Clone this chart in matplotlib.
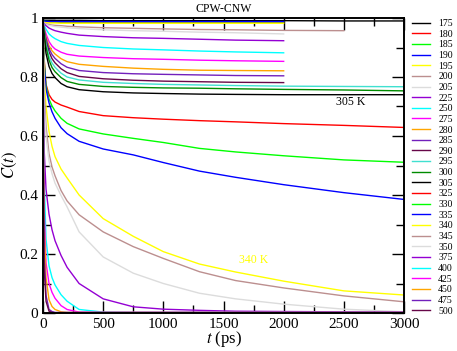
import numpy as np
import matplotlib.pyplot as plt

plt.rcParams['font.family'] = ['Liberation Serif', 'DejaVu Serif']
plt.rcParams['mathtext.fontset'] = 'stix'

nan = np.nan

# time grid (ps)
t = [0, 5, 10, 25, 50, 75, 100, 150, 200, 300, 500, 750, 1000, 1300, 1600, 2000, 2500, 3000]

temps = ['175', '180', '185', '190', '195', '200', '205', '225', '250', '275', '280',
         '285', '290', '295', '300', '305', '325', '330', '335', '340', '345', '350',
         '375', '400', '425', '450', '475', '500']

c175 = [0.992, 0.992, 0.992, 0.992, 0.992, 0.992, 0.992, 0.992, 0.992, 0.992, 0.991, 0.991, 0.991, 0.991, 0.991, 0.991, 0.990, 0.990]
c180 = [0.990, 0.989, 0.988, 0.987, 0.987, 0.986, 0.986, 0.986, 0.986, 0.986, 0.986, 0.986, 0.986, 0.986, 0.986, 0.986, nan, nan]
c185 = [0.990, 0.990, 0.989, 0.988, 0.988, 0.987, 0.987, 0.987, 0.987, 0.987, 0.987, 0.987, 0.987, 0.987, 0.987, 0.987, nan, nan]
c190 = [0.990, 0.990, 0.989, 0.989, 0.988, 0.988, 0.988, 0.988, 0.988, 0.988, 0.988, 0.988, 0.988, 0.988, 0.988, 0.988, nan, nan]
c195 = [0.988, 0.986, 0.985, 0.984, 0.983, 0.983, 0.983, 0.982, 0.982, 0.982, 0.982, 0.982, 0.982, 0.982, 0.982, 0.982, nan, nan]
c200 = [0.985, 0.984, 0.983, 0.980, 0.978, 0.976, 0.975, 0.974, 0.972, 0.970, 0.967, 0.965, 0.963, 0.961, 0.960, 0.958, 0.957, nan]
c205 = [0.985, 0.983, 0.982, 0.978, 0.975, 0.973, 0.971, 0.969, 0.967, 0.964, 0.960, 0.957, 0.955, 0.952, 0.950, 0.946, nan, nan]
c225 = [0.985, 0.982, 0.980, 0.974, 0.966, 0.961, 0.957, 0.952, 0.948, 0.942, 0.937, 0.933, 0.931, 0.928, 0.925, 0.923, nan, nan]
c250 = [0.985, 0.980, 0.975, 0.962, 0.946, 0.937, 0.930, 0.920, 0.914, 0.907, 0.900, 0.895, 0.892, 0.888, 0.885, 0.882, nan, nan]
c275 = [0.985, 0.976, 0.968, 0.946, 0.920, 0.905, 0.895, 0.884, 0.877, 0.871, 0.866, 0.862, 0.860, 0.857, 0.855, 0.853, nan, nan]
c280 = [0.985, 0.974, 0.963, 0.936, 0.906, 0.889, 0.878, 0.862, 0.852, 0.843, 0.836, 0.830, 0.826, 0.823, 0.822, 0.821, nan, nan]
c285 = [0.985, 0.972, 0.960, 0.930, 0.896, 0.876, 0.863, 0.845, 0.833, 0.822, 0.815, 0.811, 0.809, 0.807, 0.805, 0.804, nan, nan]
c290 = [0.985, 0.970, 0.956, 0.922, 0.885, 0.862, 0.848, 0.828, 0.815, 0.802, 0.794, 0.789, 0.786, 0.784, 0.782, 0.781, nan, nan]
c295 = [0.985, 0.968, 0.952, 0.912, 0.870, 0.847, 0.833, 0.813, 0.800, 0.790, 0.782, 0.778, 0.775, 0.773, 0.771, 0.769, 0.768, 0.767]
c300 = [0.985, 0.966, 0.948, 0.902, 0.857, 0.832, 0.818, 0.798, 0.785, 0.775, 0.768, 0.765, 0.763, 0.762, 0.760, 0.758, 0.756, 0.753]
c305 = [0.985, 0.958, 0.935, 0.880, 0.836, 0.812, 0.798, 0.778, 0.767, 0.757, 0.750, 0.746, 0.744, 0.742, 0.741, 0.740, 0.740, 0.740]
c325 = [0.985, 0.910, 0.860, 0.775, 0.740, 0.724, 0.715, 0.705, 0.698, 0.683, 0.669, 0.662, 0.657, 0.652, 0.648, 0.642, 0.636, 0.629]
c330 = [0.985, 0.905, 0.850, 0.770, 0.725, 0.702, 0.685, 0.660, 0.643, 0.624, 0.607, 0.592, 0.578, 0.558, 0.546, 0.533, 0.519, 0.511]
c335 = [0.985, 0.900, 0.840, 0.760, 0.712, 0.682, 0.660, 0.628, 0.608, 0.582, 0.556, 0.536, 0.510, 0.481, 0.460, 0.435, 0.408, 0.385]
c340 = [0.985, 0.880, 0.800, 0.700, 0.615, 0.565, 0.530, 0.488, 0.458, 0.400, 0.320, 0.260, 0.208, 0.166, 0.139, 0.108, 0.075, 0.061]
c345 = [0.985, 0.850, 0.750, 0.635, 0.540, 0.495, 0.465, 0.415, 0.380, 0.333, 0.275, 0.225, 0.185, 0.140, 0.110, 0.085, 0.058, 0.038]
c350 = [0.985, 0.820, 0.700, 0.600, 0.515, 0.472, 0.440, 0.398, 0.360, 0.275, 0.190, 0.135, 0.100, 0.067, 0.048, 0.030, 0.013, 0.004]
c375 = [0.985, 0.700, 0.550, 0.420, 0.335, 0.282, 0.245, 0.195, 0.155, 0.100, 0.048, 0.021, 0.013, 0.009, 0.006, 0.005, 0.004, 0.003]
c400 = [0.985, 0.620, 0.450, 0.250, 0.160, 0.120, 0.095, 0.062, 0.040, 0.012, 0.003, 0.002, 0.002, 0.002, 0.002, 0.002, 0.002, 0.002]
c425 = [0.985, 0.550, 0.350, 0.170, 0.100, 0.070, 0.050, 0.025, 0.012, 0.003, 0.002, 0.002, 0.002, 0.002, 0.002, 0.002, 0.002, 0.002]
c450 = [0.985, 0.500, 0.300, 0.120, 0.045, 0.022, 0.012, 0.004, 0.002, 0.002, 0.002, 0.002, 0.002, 0.002, 0.002, 0.002, 0.002, 0.002]
c475 = [0.985, 0.420, 0.200, 0.060, 0.012, 0.005, 0.002, 0.002, 0.002, 0.002, 0.002, 0.002, 0.002, 0.002, 0.002, 0.002, 0.002, 0.002]
c500 = [0.985, 0.360, 0.150, 0.040, 0.006, 0.002, 0.001, 0.001, 0.001, 0.001, 0.001, 0.001, 0.001, 0.001, 0.001, 0.001, 0.001, 0.001]

curves = [c175, c180, c185, c190, c195, c200, c205, c225, c250, c275, c280, c285, c290, c295,
          c300, c305, c325, c330, c335, c340, c345, c350, c375, c400, c425, c450, c475, c500]

# xmgrace default colour cycle
grace = ['#000000', '#ff0000', '#00ff00', '#0000ff', '#ffff00', '#bc8f8f', '#dcdcdc',
         '#9400d3', '#00ffff', '#ff00ff', '#ffa500', '#7220bc', '#670748', '#40e0d0', '#008b00']

fig = plt.figure(figsize=(4.57, 3.51), dpi=100)
ax = fig.add_axes([43/457, 1 - 313/351, 361/457, 295/351])

for i, (lab, c) in enumerate(zip(temps, curves)):
    ax.plot(t, c, color=grace[i % 15 if i < 15 else (i - 15) % 15], lw=1.0, label=lab)

ax.set_xlim(0, 3000)
ax.set_ylim(0, 1)
ax.set_xticks(range(0, 3001, 500))
ax.set_xticks(range(0, 3001, 250), minor=True)
ax.set_yticks([0, 0.2, 0.4, 0.6, 0.8, 1])
ax.set_yticklabels(['0', '0.2', '0.4', '0.6', '0.8', '1'])
ax.set_yticks(np.arange(0, 1.01, 0.1), minor=True)
ax.tick_params(which='both', direction='in', top=True, right=True, labelsize=11, width=1.0)
ax.tick_params(which='major', length=8.5)
ax.tick_params(which='minor', length=5.5)
for s in ax.spines.values():
    s.set_linewidth(1.4)

ax.set_xlabel(r'$t$ (ps)', fontsize=12, labelpad=-1)
ax.set_ylabel(r'$C(t)$', fontsize=12, labelpad=0)
ax.set_title('CPW-CNW', fontsize=8.5, pad=4)

ax.text(2558, 0.715, '305 K', fontsize=8.5, ha='center', va='center', color='black')
ax.text(1754, 0.181, '340 K', fontsize=8.5, ha='center', va='center', color='#ffff00')

fig.legend(loc='upper left', bbox_to_anchor=(412/457, 1 - 19/351), frameon=False,
           fontsize=7, handlelength=1.9, handletextpad=0.8, labelspacing=0.17,
           borderpad=0, borderaxespad=0)

fig.savefig('out.png', dpi=100)
